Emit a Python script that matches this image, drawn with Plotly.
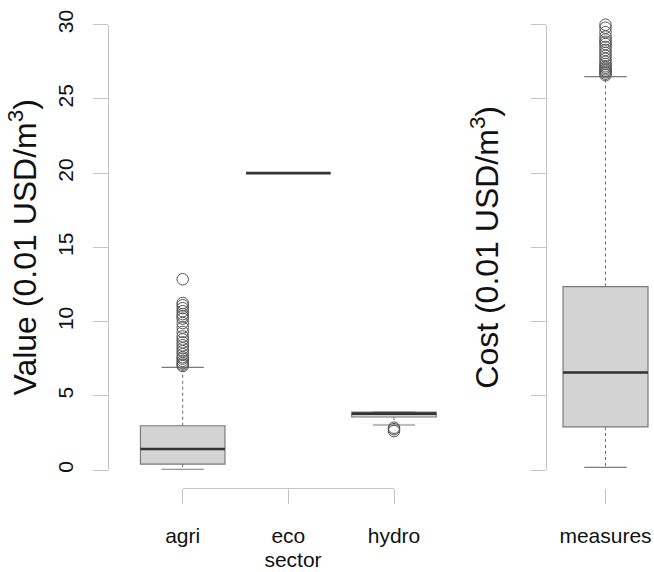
import plotly.graph_objects as go

W, H = 654, 572

# ---------------- data ----------------
sectors = ["agri", "eco", "hydro"]
sector_q1 = [0.40, 20.0, 3.57]
sector_median = [1.41, 20.0, 3.80]
sector_q3 = [2.98, 20.0, 3.90]
sector_lower = [0.05, 20.0, 3.03]
sector_upper = [6.92, 20.0, 3.90]
agri_outliers = [7.0, 7.1, 7.2, 7.35, 7.5, 7.6, 7.8, 8.0, 8.2, 8.4, 8.6, 8.8,
                 9.0, 9.3, 9.6, 9.9, 10.2, 10.35, 10.5, 10.7, 10.9, 11.1, 11.25, 12.85]
eco_outliers = []
hydro_outliers = [2.85, 2.75, 2.62]
sector_outliers = [agri_outliers, eco_outliers, hydro_outliers]

measures = ["measures"]
measures_q1 = [2.90]
measures_median = [6.57]
measures_q3 = [12.36]
measures_lower = [0.18]
measures_upper = [26.5]
measures_outliers = [[26.6, 26.7, 26.8, 26.9, 27.0, 27.1, 27.2, 27.35, 27.5, 27.7, 27.9,
                      28.1, 28.3, 28.5, 28.7, 28.85, 29.0, 29.2, 29.5, 29.8, 30.0]]

y_ticks = [0, 5, 10, 15, 20, 25, 30]
y_title_left = "Value (0.01 USD/m<sup>3</sup>)"
y_title_right = "Cost (0.01 USD/m<sup>3</sup>)"
x_title_left = "sector"

# ---------------- style ----------------
FONT = "Liberation Sans, Arial, Helvetica, sans-serif"
FS = 21
FS_TITLE = 32
AXC = "#c4c4c4"
BOXW = 0.8

def fx(px):
    return px / W

def fy(py):
    return (H - py) / H

fig = go.Figure()

def add_group(names, q1, med, q3, lo, hi, outs, xa, ya):
    for i, _ in enumerate(names):
        p = i + 1
        fig.add_trace(go.Box(
            x=[p], q1=[q1[i]], median=[med[i]], q3=[q3[i]],
            lowerfence=[q1[i]], upperfence=[q3[i]],
            width=BOXW, whiskerwidth=0, fillcolor="#d3d3d3",
            line=dict(color="#7a7a7a", width=1.2), boxpoints=False,
            hoverinfo="skip", showlegend=False, xaxis=xa, yaxis=ya))
        # whiskers (dashed)
        fig.add_trace(go.Scatter(
            x=[p, p, None, p, p], y=[q3[i], hi[i], None, q1[i], lo[i]],
            mode="lines", line=dict(color="#6a6a6a", width=1, dash="3px,3px"),
            hoverinfo="skip", showlegend=False, xaxis=xa, yaxis=ya))
        # staples
        fig.add_trace(go.Scatter(
            x=[p - BOXW / 4, p + BOXW / 4, None, p - BOXW / 4, p + BOXW / 4],
            y=[hi[i], hi[i], None, lo[i], lo[i]],
            mode="lines", line=dict(color="#7a7a7a", width=1.2),
            hoverinfo="skip", showlegend=False, xaxis=xa, yaxis=ya))
        # median
        fig.add_trace(go.Scatter(
            x=[p - BOXW / 2, p + BOXW / 2], y=[med[i], med[i]],
            mode="lines", line=dict(color="#333333", width=2.6),
            hoverinfo="skip", showlegend=False, xaxis=xa, yaxis=ya))
        # outliers
        if outs[i]:
            fig.add_trace(go.Scatter(
                x=[p] * len(outs[i]), y=outs[i], mode="markers",
                marker=dict(symbol="circle-open", size=11.5, color="#555555",
                            line=dict(width=1, color="#555555")),
                hoverinfo="skip", showlegend=False, xaxis=xa, yaxis=ya))

add_group(sectors, sector_q1, sector_median, sector_q3, sector_lower, sector_upper,
          sector_outliers, "x", "y")
add_group(measures, measures_q1, measures_median, measures_q3, measures_lower,
          measures_upper, measures_outliers, "x2", "y2")

# empty traces to register the axis-only subplots
fig.add_trace(go.Scatter(x=[None], y=[None], xaxis="x", yaxis="y3", showlegend=False, hoverinfo="skip"))
fig.add_trace(go.Scatter(x=[None], y=[None], xaxis="x2", yaxis="y4", showlegend=False, hoverinfo="skip"))
fig.add_trace(go.Scatter(x=[None], y=[None], xaxis="x3", yaxis="y", showlegend=False, hoverinfo="skip"))

# geometry (window pixels)
ax_left = 108.3
ax_right = 545.7
pl_top, pl_bot = 6.9, 487.8
t0_px, t30_px = 470.0, 24.7
c1, c3 = 182.7, 394.0
unit = (c3 - c1) / 2.0
left_right_edge = 477.7
m_center = 605.5
unit2 = 106.25

yr = [-1.2, 31.2]
font = dict(family=FONT, size=FS, color="#111111")
tfont = dict(family=FONT, size=FS_TITLE, color="#111111")

fig.update_layout(
    width=W, height=H, margin=dict(l=0, r=0, t=0, b=0, autoexpand=False),
    paper_bgcolor="white", plot_bgcolor="rgba(0,0,0,0)",
    font=font, showlegend=False,
    xaxis=dict(domain=[fx(ax_left), fx(left_right_edge)],
               range=[1 - (c1 - ax_left) / unit, 3 + (left_right_edge - c3) / unit],
               showline=False, showgrid=False, zeroline=False, ticks="",
               showticklabels=False, anchor="y", automargin=False,
               title=dict(text=x_title_left, font=font, standoff=64)),
    yaxis=dict(domain=[fy(pl_bot), fy(pl_top)], range=yr, visible=False, anchor="x",
               automargin=False),
    xaxis2=dict(domain=[fx(ax_right), 1.0],
                range=[1 - (m_center - ax_right) / unit2, 1 + (W - m_center) / unit2],
                tickvals=[1], ticktext=measures, ticks="outside", ticklen=15,
                tickcolor=AXC, tickwidth=1, showline=False, showgrid=False,
                zeroline=False, anchor="y2", ticklabelstandoff=14, tickfont=font,
                automargin=False),
    yaxis2=dict(domain=[fy(pl_bot), fy(pl_top)], range=yr, visible=False, anchor="x2",
                automargin=False),
    xaxis3=dict(domain=[fx(c1), fx(c3)], range=[1, 3], tickvals=[1, 2, 3],
                ticktext=sectors, ticks="outside", ticklen=15, tickcolor=AXC,
                tickwidth=1, showline=True, linecolor=AXC, linewidth=1,
                showgrid=False, zeroline=False, anchor="y", ticklabelstandoff=14,
                tickfont=font, automargin=False),
    yaxis3=dict(domain=[fy(t0_px), fy(t30_px)], range=[0, 30], tickvals=y_ticks,
                ticks="outside", ticklen=15, tickcolor=AXC, tickwidth=1,
                showline=True, linecolor=AXC, linewidth=1, showgrid=False,
                zeroline=False, anchor="free", position=fx(ax_left), tickangle=-90,
                ticklabelstandoff=12, tickfont=font, automargin=False,
                title=dict(text=y_title_left, font=tfont, standoff=6)),
    yaxis4=dict(domain=[fy(t0_px), fy(t30_px)], range=[0, 30], tickvals=y_ticks,
                ticks="outside", ticklen=15, tickcolor=AXC, tickwidth=1,
                showline=True, linecolor=AXC, linewidth=1, showgrid=False,
                zeroline=False, anchor="free", position=fx(ax_right),
                showticklabels=False, automargin=False,
                title=dict(text=y_title_right, font=tfont, standoff=21)),
)

# remove the default 8px page margin so the figure fills the window exactly
fig.write_html("out.html",
               config={"displayModeBar": False},
               post_script="document.body.style.margin='0px';"
                           "document.body.style.overflow='hidden';")
